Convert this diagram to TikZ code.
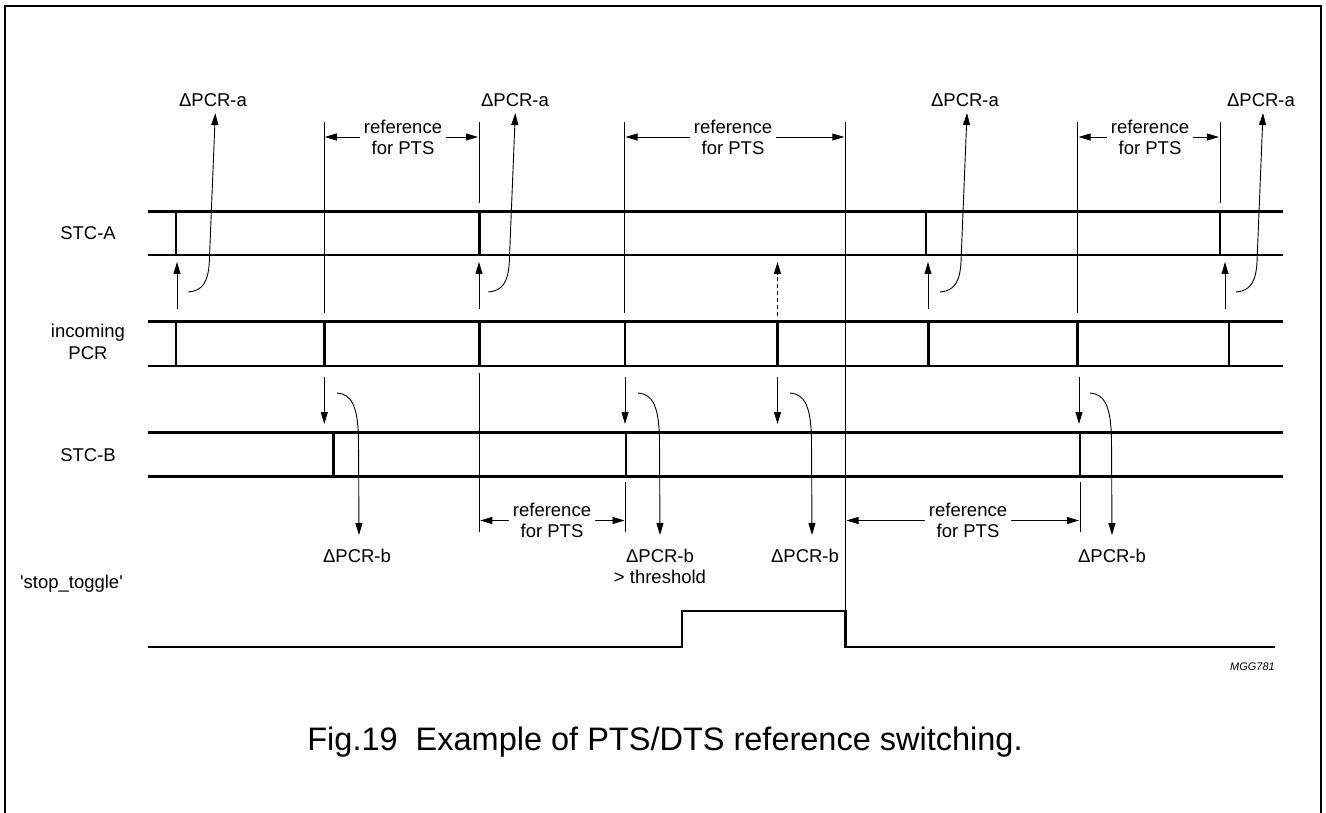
\documentclass[tikz,border=0pt]{standalone}
\usepackage{fontspec}
\setmainfont{Liberation Sans}
\usetikzlibrary{arrows.meta}
\begin{document}
\begin{tikzpicture}[x=1pt,y=-1pt,
  frameline/.style={line width=1.4pt},
  bus/.style={line width=2.6pt},
  pulse/.style={line width=2.4pt},
  thinline/.style={line width=0.9pt},
  arr/.style={thinline,-{Triangle[length=12pt,width=7pt]}},
  lbl/.style={font=\fontsize{18.5}{22}\selectfont, inner sep=0pt, align=center},
  reflbl/.style={font=\fontsize{18.5}{21}\selectfont, inner xsep=4pt, inner ysep=0pt, align=center}]
\useasboundingbox (0,0) rectangle (1326,813);
% frame
\draw[frameline] (5,813) -- (5,6) -- (1321,6) -- (1321,813);
% buses
\foreach \yt/\yb in {211.7/255, 321.7/366, 432.3/476.7}{
  \draw[bus] (148,\yt) -- (1283,\yt);
  \draw[bus] (148,\yb) -- (1283,\yb);}
% pulses
\foreach \x in {176,479.3,926,1220} \draw[pulse] (\x,211.7) -- (\x,255);
\foreach \x in {176,324.3,479.3,625,777.3,928.3,1077.3,1228.7} \draw[pulse] (\x,321.7) -- (\x,366);
\foreach \x in {333.3,626,1080} \draw[pulse] (\x,432.3) -- (\x,476.7);
% stop toggle
\draw[bus] (148,647) -- (682,647) -- (682,611) -- (845.5,611) -- (845.5,647) -- (1275,647);
% left labels
\node[lbl] (stca) at (88,233) {STC-A};
\node[lbl] (inpcr) at (88,342) {incoming\\PCR};
\node[lbl] (stcb) at (88,455) {STC-B};
\node[lbl,anchor=east] (stop) at (123,584) {\textquotesingle stop\_toggle\textquotesingle};
% delta labels
\node[lbl] (la1) at (213,100) {ΔPCR-a};
\node[lbl] (la2) at (515,100) {ΔPCR-a};
\node[lbl] (la3) at (965,100) {ΔPCR-a};
\node[lbl] (la4) at (1261,100) {ΔPCR-a};
\node[lbl] (lb1) at (357,556) {ΔPCR-b};
\node[lbl,font=\fontsize{18.5}{21}\selectfont] (lb2) at (660,566) {ΔPCR-b\\> threshold};
\node[lbl] (lb3) at (805,556) {ΔPCR-b};
\node[lbl] (lb4) at (1112,556) {ΔPCR-b};
% reference for PTS labels
\node[reflbl] (r1) at (403,137) {reference\\for PTS};
\node[reflbl] (r2) at (733,137) {reference\\for PTS};
\node[reflbl] (r3) at (1150,137) {reference\\for PTS};
\node[reflbl] (r4) at (552,520.5) {reference\\for PTS};
\node[reflbl] (r5) at (968,520.5) {reference\\for PTS};
% reference vertical markers
\draw[thinline] (324.3,122) -- (324.3,313);
\draw[thinline] (479.3,122) -- (479.3,203);
\draw[thinline] (624.7,122) -- (624.7,313);
\draw[thinline] (845.5,122) -- (845.5,611);
\draw[thinline] (1077.5,122) -- (1077.5,313);
\draw[thinline] (1220,122) -- (1220,203);
\draw[thinline] (479.3,373) -- (479.3,532);
\draw[thinline] (625.8,482) -- (625.8,532);
\draw[thinline] (1080,482) -- (1080,532);
% reference arrows
\draw[arr] (r1.west) -- (324.8,137);
\draw[arr] (r1.east) -- (478,137);
\draw[arr] (r2.west) -- (625.5,137);
\draw[arr] (r2.east) -- (844.3,137);
\draw[arr] (r3.west) -- (1078.5,137);
\draw[arr] (r3.east) -- (1218.8,137);
\draw[arr] (r4.west) -- (480.3,520.5);
\draw[arr] (r4.east) -- (624.5,520.5);
\draw[arr] (r5.west) -- (846.5,520.5);
\draw[arr] (r5.east) -- (1079,520.5);
% straight up arrows (incoming PCR -> STC-A)
\foreach \x in {177,479,928,1225} \draw[arr] (\x,309) -- (\x,262);
\draw[arr,dash pattern=on 4pt off 3pt] (777.5,316) -- (777.5,262);
% straight down arrows (incoming PCR -> STC-B)
\foreach \x in {324.3,625,777.5,1079} \draw[arr] (\x,377) -- (\x,424);
% curved up arrows (delta PCR-a)
\foreach \s in {188.3,488.3,940,1236}
  \draw[arr] (\s,292) .. controls ({\s+14},291) and ({\s+20},282) .. ({\s+21},262) -- ({\s+27},113);
% curved down arrows (delta PCR-b)
\foreach \s in {337,638,790,1090}
  \draw[arr] (\s,393) .. controls ({\s+14},394) and ({\s+21},405) .. ({\s+21.5},440) -- ({\s+22},535);
% ID and caption
\node[lbl,anchor=east,font=\fontsize{11}{13}\selectfont\itshape] (mgg) at (1275,667) {MGG781};
\node[lbl,font=\fontsize{32.5}{36}\selectfont] (cap) at (665,742) {Fig.19\ \ Example of PTS/DTS reference switching.};
\end{tikzpicture}
\end{document}
